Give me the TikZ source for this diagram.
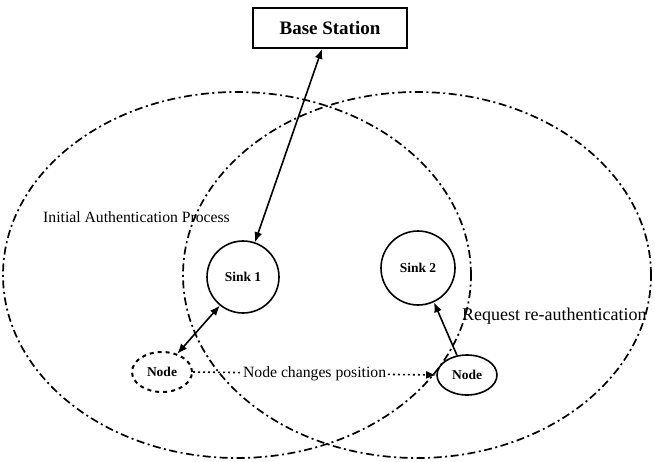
\documentclass[tikz,border=0pt]{standalone}
\usepackage{fontspec}
\setmainfont{Liberation Serif}
\usetikzlibrary{arrows.meta,shapes.geometric}
\begin{document}
\begin{tikzpicture}[x=1pt,y=-1pt,
  zone/.style={line width=1.7pt,dash pattern=on 8pt off 3.5pt on 2pt off 3.5pt},
  sinkc/.style={circle,draw,line width=1.6pt,minimum size=72pt,inner sep=0pt,font=\fontsize{13.5}{15}\selectfont\bfseries},
  sensor/.style={ellipse,draw,line width=1.6pt,minimum width=60pt,minimum height=40pt,inner sep=0pt,font=\fontsize{13.5}{15}\selectfont\bfseries},
  link/.style={line width=1.6pt,{Latex[length=10pt,width=8pt]}-{Latex[length=10pt,width=8pt]}},
  onearrow/.style={line width=1.6pt,-{Latex[length=10pt,width=8pt]}},
  lbl/.style={font=\fontsize{15.7}{18}\selectfont,inner sep=1pt}]
\useasboundingbox (0,0) rectangle (655,461);
\clip (0,0) rectangle (655,461);
\fill[white] (0,0) rectangle (655,461);
% coverage zones
\draw[zone] (237,275) ellipse [x radius=234pt, y radius=183pt];
\draw[zone] (417,275) ellipse [x radius=234pt, y radius=183pt];
% nodes
\node[draw,line width=1.6pt,minimum width=154pt,minimum height=40pt,inner sep=0pt,fill=white,font=\fontsize{19}{21}\selectfont\bfseries] (base) at (330,28) {Base Station};
\node[sinkc,fill=white] (sink1) at (243,277) {Sink 1};
\node[sinkc,minimum size=74pt,fill=white] (sink2) at (418,268) {Sink 2};
\node[sensor,dash pattern=on 4pt off 4pt,line width=2pt,fill=white] (oldnode) at (162,372) {Node};
\node[sensor,fill=white] (newnode) at (467,375) {Node};
% texts
\node[lbl,anchor=west] (initlbl) at (42,217) {Initial Authentication Process};
\node[font=\fontsize{18}{20}\selectfont,anchor=west,inner sep=0pt] (reqlbl) at (462,316) {Request re-authentication};
% connectors
\draw[link] ([xshift=-8pt]base.south) -- (sink1.71);
\draw[link] (sink1.231) -- (oldnode.50);
\draw[onearrow] (newnode.117) -- (sink2.295);
\draw[line width=1.6pt,dash pattern=on 2pt off 3pt,-{Latex[length=10pt,width=8pt]}] (oldnode.east) -- node[lbl,fill=white] (movelbl) {Node changes position} (newnode.west);
\end{tikzpicture}
\end{document}
